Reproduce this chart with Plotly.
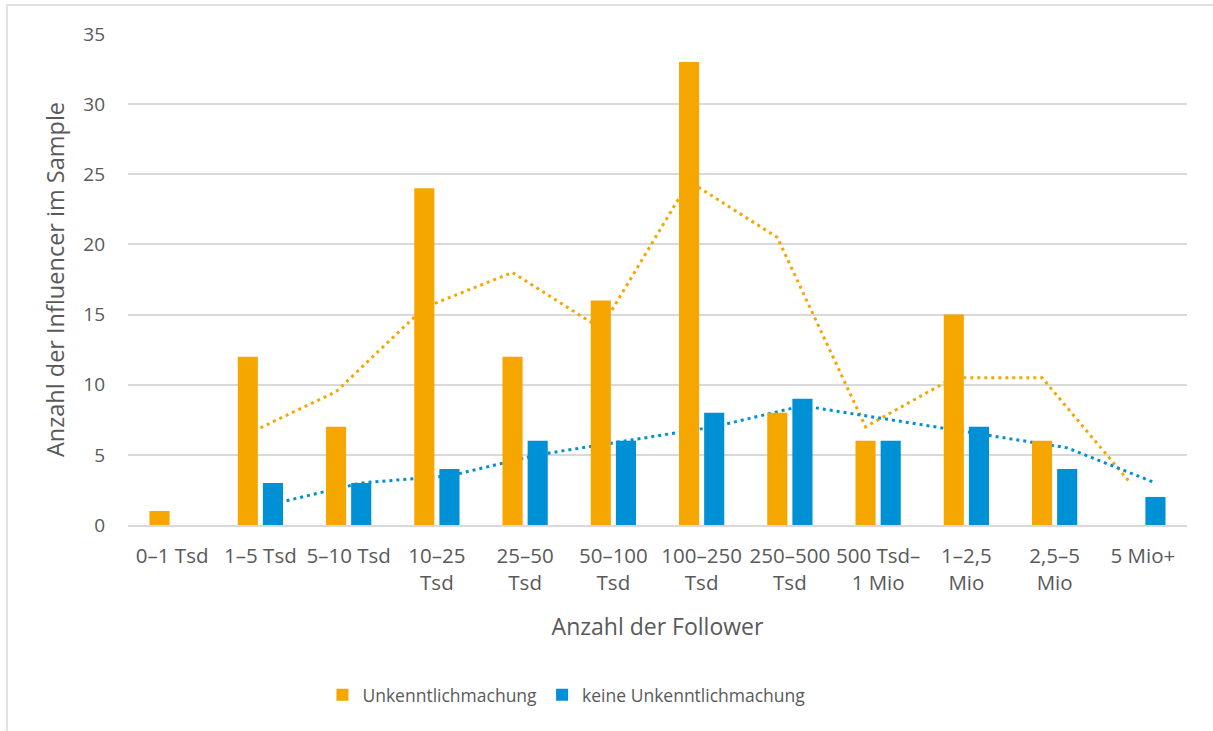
import plotly.graph_objects as go

# Kategorien (Anzahl der Follower)
kategorien = [
    "0–1 Tsd", "1–5 Tsd", "5–10 Tsd", "10–25<br>Tsd", "25–50<br>Tsd",
    "50–100<br>Tsd", "100–250<br>Tsd", "250–500<br>Tsd", "500 Tsd–<br>1 Mio",
    "1–2,5<br>Mio", "2,5–5<br>Mio", "5 Mio+",
]

# Balken
unkenntlich = [1, 12, 7, 24, 12, 16, 33, 8, 6, 15, 6, 0]
keine_unkenntlich = [0, 3, 3, 4, 6, 6, 8, 9, 6, 7, 4, 2]

# gleitender Durchschnitt (Trendlinien)
trend_unkenntlich = [None, 6.5, 9.5, 15.5, 18, 14, 24.5, 20.5, 7, 10.5, 10.5, 3]
trend_keine = [None, 1.5, 3, 3.5, 5, 6, 7, 8.5, 7.5, 6.5, 5.5, 3]

ORANGE = "#F5A700"
BLAU = "#0090D5"
GRAU = "#595959"
LINIE = "#D9D9D9"
FONT = "Open Sans, sans-serif"

fig = go.Figure()

# Trendlinien zuerst (liegen hinter den Balken)
fig.add_trace(go.Scatter(
    x=kategorien, y=trend_unkenntlich, mode="lines",
    line=dict(color=ORANGE, width=3, dash="3px,4px"),
    offsetgroup="a", showlegend=False, hoverinfo="skip",
    xaxis="x", yaxis="y",
))
fig.add_trace(go.Scatter(
    x=kategorien, y=trend_keine, mode="lines",
    line=dict(color=BLAU, width=3, dash="3px,4px"),
    offsetgroup="b", showlegend=False, hoverinfo="skip",
    xaxis="x", yaxis="y",
))

# Balken
fig.add_trace(go.Bar(
    x=kategorien, y=unkenntlich, name="Unkenntlichmachung",
    marker=dict(color=ORANGE, line=dict(width=0)),
    offsetgroup="a", xaxis="x", yaxis="y2",
))
fig.add_trace(go.Bar(
    x=kategorien, y=keine_unkenntlich, name="keine Unkenntlichmachung",
    marker=dict(color=BLAU, line=dict(width=0)),
    offsetgroup="b", xaxis="x", yaxis="y2",
))

fig.update_layout(
    width=1213, height=731,
    margin=dict(l=128, r=26, t=34, b=206),
    paper_bgcolor="white", plot_bgcolor="white",
    font=dict(family=FONT, size=18, color=GRAU),
    barmode="group", bargap=0.43, bargroupgap=0.2,
    scattermode="group", scattergap=0.43,
    xaxis=dict(
        type="category",
        showline=True, linecolor=LINIE, linewidth=1.5,
        showgrid=False, ticks="",
        tickfont=dict(size=20.5, color=GRAU),
        ticklabelstandoff=12,
        title=dict(text="Anzahl der Follower", font=dict(size=23, color=GRAU), standoff=24),
    ),
    yaxis=dict(
        range=[0, 35], dtick=5,
        showgrid=True, gridcolor=LINIE, gridwidth=1.5,
        zeroline=False, showline=False, ticks="",
        tickfont=dict(size=19, color=GRAU),
        ticklabelstandoff=22,
        title=dict(text="Anzahl der Influencer im Sample", font=dict(size=23.5, color=GRAU), standoff=12),
    ),
    yaxis2=dict(
        overlaying="y", range=[0, 35], visible=False, showgrid=False,
    ),
    legend=dict(
        orientation="h", x=0.414, xanchor="center", y=-0.346, yanchor="middle",
        font=dict(size=17.5, color=GRAU),
    ),
    shapes=[dict(
        type="rect", xref="paper", yref="paper",
        x0=-0.1143, x1=1.03, y0=-0.43, y1=1.059,
        line=dict(color=LINIE, width=1.5), layer="below",
    )],
)

fig.write_html("out.html", config={"displayModeBar": False},
               post_script="document.body.style.margin='0';")
